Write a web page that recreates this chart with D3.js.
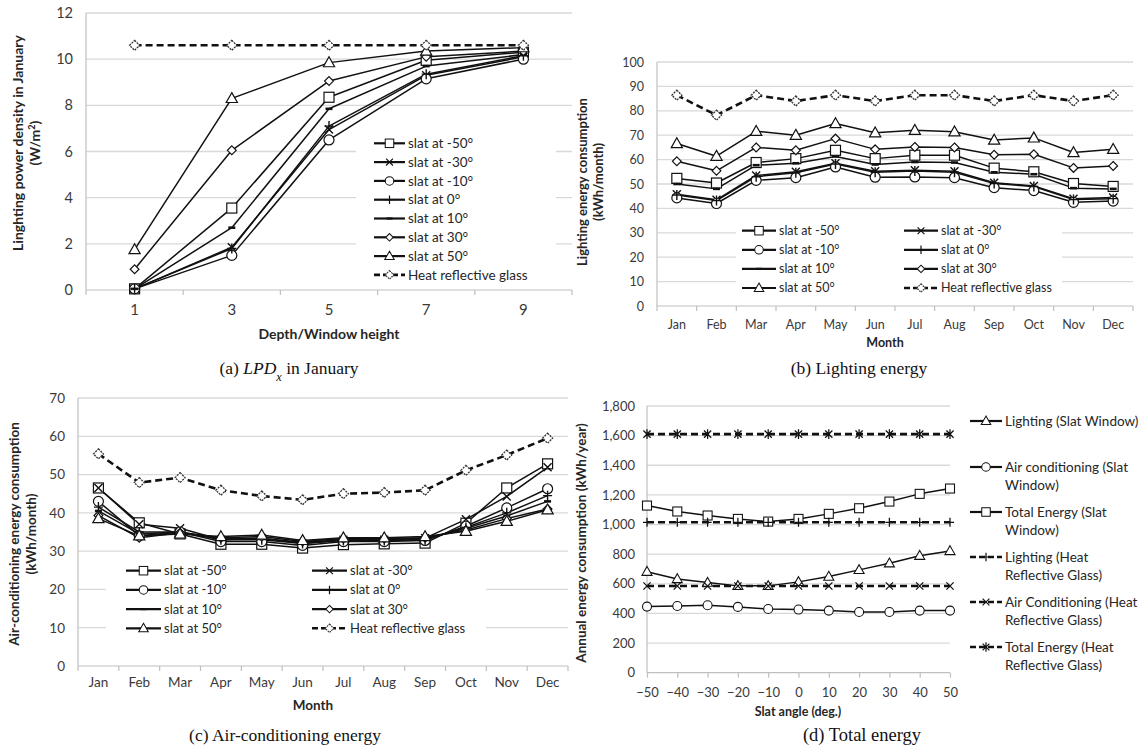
<!DOCTYPE html>
<html>
<head>
<meta charset="utf-8">
<script src="https://cdn.jsdelivr.net/npm/d3@7"></script>
<style>
  body { margin: 0; background: #fff; }
  svg { display: block; font-family: Lato, "Open Sans", sans-serif; }
</style>
</head>
<body>
<svg id="fig" width="1140" height="747"></svg>
<script>
// ---------- categories and labels ----------
const depthRatios = ["1", "3", "5", "7", "9"];
const months = ["Jan", "Feb", "Mar", "Apr", "May", "Jun", "Jul", "Aug", "Sep", "Oct", "Nov", "Dec"];
const slatLabels = ["slat at -50°", "slat at -30°", "slat at -10°", "slat at 0°", "slat at 10°", "slat at 30°", "slat at 50°"];
const heatLabel = "Heat reflective glass";

// ---------- (a) lighting power density in January (W/m2) ----------
const lpdTicks = [0, 2, 4, 6, 8, 10, 12];
const lpdSlat = [
  [0.05, 3.55, 8.35, 9.95, 10.3],   // -50
  [0.05, 1.85, 6.95, 9.3, 10.1],    // -30
  [0.05, 1.5, 6.5, 9.15, 10.0],     // -10
  [0.05, 1.8, 7.1, 9.35, 10.15],    // 0
  [0.05, 2.7, 7.85, 9.7, 10.2],     // 10
  [0.9, 6.05, 9.05, 10.1, 10.35],   // 30
  [1.75, 8.3, 9.85, 10.35, 10.5]    // 50
];
const lpdHeat = [10.6, 10.6, 10.6, 10.6, 10.6];

// ---------- (b) monthly lighting energy (kWh/month) ----------
const lightTicks = [0, 10, 20, 30, 40, 50, 60, 70, 80, 90, 100];
const lightSlat = [
  [52.3, 50.4, 58.8, 60.4, 63.8, 60.4, 61.8, 61.8, 56.5, 55.0, 50.2, 49.0],
  [45.8, 43.5, 53.5, 55.0, 58.5, 55.2, 55.6, 55.2, 50.5, 49.2, 44.0, 44.5],
  [44.3, 42.0, 51.5, 52.6, 57.0, 52.8, 52.9, 52.6, 48.5, 47.3, 42.5, 43.0],
  [45.5, 43.2, 53.0, 54.6, 58.2, 54.8, 55.3, 54.8, 50.2, 49.0, 43.6, 44.0],
  [50.0, 48.0, 57.7, 58.5, 61.3, 58.0, 59.0, 58.8, 54.8, 54.0, 48.3, 48.0],
  [59.3, 55.4, 65.0, 63.8, 68.6, 64.2, 65.2, 65.0, 62.0, 62.2, 56.6, 57.4],
  [66.6, 61.4, 71.6, 70.0, 74.8, 71.0, 72.0, 71.4, 68.0, 68.9, 62.9, 64.2]
];
const lightHeat = [86.4, 78.2, 86.4, 84.0, 86.4, 84.0, 86.4, 86.4, 84.0, 86.4, 84.0, 86.4];

// ---------- (c) monthly air-conditioning energy (kWh/month) ----------
const acTicks = [0, 10, 20, 30, 40, 50, 60, 70];
const acSlat = [
  [46.5, 37.4, 34.5, 31.8, 31.8, 30.8, 31.7, 31.9, 32.1, 37.3, 46.5, 52.8],
  [46.5, 37.0, 36.0, 33.0, 33.4, 32.0, 33.0, 33.0, 33.4, 38.3, 44.3, 51.9],
  [43.0, 34.0, 35.0, 32.5, 32.5, 31.5, 32.5, 32.5, 32.8, 36.5, 41.3, 46.3],
  [41.5, 35.0, 35.0, 33.0, 33.0, 32.0, 32.8, 32.8, 33.0, 36.2, 40.0, 44.5],
  [40.5, 34.5, 35.0, 33.3, 33.3, 32.3, 33.0, 33.0, 33.2, 36.0, 39.2, 43.0],
  [39.3, 33.5, 34.8, 33.5, 33.8, 32.5, 33.3, 33.3, 33.5, 35.5, 38.5, 41.0],
  [38.5, 34.0, 34.5, 33.8, 34.2, 32.8, 33.5, 33.5, 33.8, 35.2, 37.8, 40.8]
];
const acHeat = [55.4, 47.9, 49.2, 45.9, 44.4, 43.4, 45.0, 45.3, 45.9, 51.1, 55.1, 59.5];

// ---------- (d) annual energy vs slat angle (kWh/year) ----------
const slatAngles = [-50, -40, -30, -20, -10, 0, 10, 20, 30, 40, 50];
const annualTicks = [0, 200, 400, 600, 800, 1000, 1200, 1400, 1600, 1800];
const annualLightSlat = [682, 633, 608, 586, 586, 613, 649, 694, 739, 790, 822];
const annualAcSlat = [446, 450, 455, 444, 430, 426, 419, 410, 410, 419, 419];
const annualTotalSlat = [1128, 1088, 1061, 1038, 1020, 1038, 1072, 1110, 1155, 1207, 1243];
const annualLightHeat = [1015, 1015, 1015, 1015, 1015, 1015, 1015, 1015, 1015, 1015, 1015];
const annualAcHeat = [585, 585, 585, 585, 585, 585, 585, 585, 585, 585, 585];
const annualTotalHeat = [1610, 1610, 1610, 1610, 1610, 1610, 1610, 1610, 1610, 1610, 1610];
const annualLabels = [
  ["Lighting (Slat Window)"],
  ["Air conditioning (Slat", "Window)"],
  ["Total Energy (Slat", "Window)"],
  ["Lighting (Heat", "Reflective Glass)"],
  ["Air Conditioning (Heat", "Reflective Glass)"],
  ["Total Energy (Heat", "Reflective Glass)"]
];

// ---------- styling ----------
const slatMarkers = ["square", "cross", "circle", "plus", "dash", "diamond", "triangle"];
const GRID = "#d9d9d9";
const AXIS = "#bfbfbf";
const TICK_TEXT = "#3a3a3a";
const TITLE_TEXT = "#262626";

const svg = d3.select("#fig");

// Excel-like point markers centred on (x, y)
function marker(g, type, x, y, k = 1) {
  const m = g.append("g").attr("transform", `translate(${x},${y}) scale(${k})`);
  const hollow = s => s.attr("fill", "#fff").attr("stroke", "#111").attr("stroke-width", 1.2);
  const stroke = s => s.attr("fill", "none").attr("stroke", "#111").attr("stroke-width", 1.4);
  switch (type) {
    case "square": hollow(m.append("rect").attr("x", -5).attr("y", -5).attr("width", 10).attr("height", 10)); break;
    case "circle": hollow(m.append("circle").attr("r", 5)); break;
    case "triangle": hollow(m.append("path").attr("d", "M0,-5.8L5.6,4.1L-5.6,4.1Z")); break;
    case "diamond": hollow(m.append("path").attr("d", "M0,-4.4L4.4,0L0,4.4L-4.4,0Z")); break;
    case "heat":
      m.append("path").attr("d", "M0,-5L5,0L0,5L-5,0Z")
        .attr("fill", "#fff").attr("stroke", "#333").attr("stroke-width", 1.3)
        .attr("stroke-dasharray", "2,1");
      break;
    case "cross": stroke(m.append("path").attr("d", "M-4,-4L4,4M-4,4L4,-4")); break;
    case "plus": stroke(m.append("path").attr("d", "M0,-5L0,5M-4.5,0L4.5,0")); break;
    case "dash": m.append("path").attr("d", "M-3.5,0L3.5,0").attr("stroke", "#111").attr("stroke-width", 2.6); break;
    case "star": stroke(m.append("path").attr("d", "M-4,-4L4,4M-4,4L4,-4M0,-5.5L0,5.5")); break;
  }
}

function seriesLine(g, pts, dashed) {
  g.append("path")
    .attr("d", d3.line()(pts))
    .attr("fill", "none")
    .attr("stroke", "#111")
    .attr("stroke-width", dashed ? 2.6 : 1.5)
    .attr("stroke-dasharray", dashed ? "7,4" : null)
    .attr("stroke-linejoin", "round");
}

function legendItem(g, x0, x1, y, type, dashed, lines, fontSize) {
  g.append("line").attr("x1", x0).attr("x2", x1).attr("y1", y).attr("y2", y)
    .attr("stroke", "#111").attr("stroke-width", dashed ? 2.6 : 2.2)
    .attr("stroke-dasharray", dashed ? "6,3" : null);
  marker(g, type, (x0 + x1) / 2, y, 0.85);
  const t = g.append("text").attr("x", x1 + 3).attr("y", y)
    .attr("font-size", fontSize).attr("fill", TITLE_TEXT);
  lines.forEach((ln, i) => t.append("tspan").attr("x", x1 + 3).attr("dy", i === 0 ? "0.35em" : "1.32em").text(ln));
}

function rotatedTitle(lines, x0, dx, cy, size) {
  lines.forEach((ln, i) => {
    const t = svg.append("text")
      .attr("transform", `translate(${x0 + i * dx},${cy}) rotate(-90)`)
      .attr("text-anchor", "middle").attr("dy", "0.35em")
      .attr("font-size", size).attr("font-weight", "bold").attr("fill", TITLE_TEXT);
    if (Array.isArray(ln)) {
      ln.forEach(p => {
        const s = t.append("tspan").text(p.text);
        if (p.sup) s.attr("baseline-shift", "super").attr("font-size", size * 0.65);
      });
    } else t.text(ln);
  });
}

function caption(parts, cx, cy, size) {
  const t = svg.append("text").attr("x", cx).attr("y", cy).attr("dy", "0.35em")
    .attr("text-anchor", "middle").attr("font-family", "'Liberation Serif', 'Times New Roman', serif")
    .attr("font-size", size).attr("fill", "#111");
  parts.forEach(p => {
    const s = t.append("tspan").text(p.text);
    if (p.italic) s.attr("font-style", "italic");
    if (p.sub) s.attr("baseline-shift", "sub").attr("font-size", size * 0.7);
  });
}

// Category (month / depth) line chart panel
function categoryPanel(cfg) {
  const g = svg.append("g");
  const x = d3.scaleBand().domain(cfg.cats).range([cfg.left, cfg.right]).padding(0);
  const y = d3.scaleLinear().domain([0, d3.max(cfg.ticks)]).range([cfg.bottom, cfg.top]);
  const cx = c => x(c) + x.bandwidth() / 2;

  // horizontal gridlines
  g.selectAll(".grid").data(cfg.ticks.filter(t => t > 0)).join("line")
    .attr("x1", cfg.left).attr("x2", cfg.right)
    .attr("y1", d => y(d)).attr("y2", d => y(d))
    .attr("stroke", GRID).attr("stroke-width", 1.3);

  // y axis labels
  const ya = g.append("g").attr("transform", `translate(${cfg.left - 13},0)`)
    .call(d3.axisLeft(y).tickValues(cfg.ticks).tickSize(0).tickPadding(0));
  ya.select(".domain").remove();
  ya.selectAll("text").attr("font-family", "Lato, sans-serif").attr("font-size", cfg.yFont).attr("fill", TICK_TEXT);

  // axes lines
  g.append("line").attr("x1", cfg.left).attr("x2", cfg.left).attr("y1", cfg.top).attr("y2", cfg.bottom)
    .attr("stroke", AXIS).attr("stroke-width", 1.2);
  g.append("line").attr("x1", cfg.left).attr("x2", cfg.right).attr("y1", cfg.bottom).attr("y2", cfg.bottom)
    .attr("stroke", AXIS).attr("stroke-width", 1.2);

  // tick marks between categories
  const bounds = cfg.cats.map(c => x(c)).concat([x(cfg.cats[cfg.cats.length - 1]) + x.bandwidth()]);
  g.selectAll(".tk").data(bounds).join("line")
    .attr("x1", d => d).attr("x2", d => d).attr("y1", cfg.bottom).attr("y2", cfg.bottom + 5)
    .attr("stroke", AXIS).attr("stroke-width", 1.2);

  // x category labels
  g.selectAll(".xl").data(cfg.cats).join("text")
    .attr("x", d => cx(d)).attr("y", cfg.xLabelY).attr("dy", "0.35em")
    .attr("text-anchor", "middle").attr("font-size", cfg.xFont).attr("fill", TICK_TEXT).text(d => d);

  // x title
  g.append("text").attr("x", cfg.xTitleX).attr("y", cfg.xTitleY).attr("dy", "0.35em")
    .attr("text-anchor", "middle").attr("font-size", cfg.xTitleFont).attr("font-weight", "bold")
    .attr("fill", TITLE_TEXT).text(cfg.xTitle);

  // series
  const plot = g.append("g");
  cfg.slat.forEach(vals => seriesLine(plot, vals.map((v, i) => [cx(cfg.cats[i]), y(v)]), false));
  seriesLine(plot, cfg.heat.map((v, i) => [cx(cfg.cats[i]), y(v)]), true);
  cfg.slat.forEach((vals, s) => vals.forEach((v, i) => marker(plot, slatMarkers[s], cx(cfg.cats[i]), y(v))));
  cfg.heat.forEach((v, i) => marker(plot, "heat", cx(cfg.cats[i]), y(v)));

  // legend
  const lg = g.append("g");
  const L = cfg.legend;
  lg.append("rect").attr("x", L.box[0]).attr("y", L.box[1]).attr("width", L.box[2]).attr("height", L.box[3]).attr("fill", "#fff");
  const items = slatLabels.map((lab, i) => ({ lab, type: slatMarkers[i], dashed: false }))
    .concat([{ lab: heatLabel, type: "heat", dashed: true }]);
  items.forEach((it, i) => {
    const col = i % L.cols, row = Math.floor(i / L.cols);
    const x0 = L.colX[col];
    legendItem(lg, x0, x0 + L.lineW, L.rowY0 + row * L.rowH, it.type, it.dashed, [it.lab], L.font);
  });
}

// ---------- panel (a) ----------
categoryPanel({
  cats: depthRatios, ticks: lpdTicks, slat: lpdSlat, heat: lpdHeat,
  left: 86, right: 572, top: 13, bottom: 290,
  yFont: 14.5, xFont: 15, xLabelY: 310,
  xTitle: "Depth/Window height", xTitleX: 329, xTitleY: 334, xTitleFont: 14,
  legend: { box: [356, 132, 200, 154], cols: 1, colX: [374], lineW: 31, rowY0: 143.3, rowH: 18.8, font: 13.5 }
});
rotatedTitle(["Linghting power density in January", [{ text: "(W/m" }, { text: "2", sup: true }, { text: ")" }]], 18, 17, 143, 14);
caption([{ text: "(a) " }, { text: "LPD", italic: true }, { text: "x", italic: true, sub: true }, { text: " in January" }], 289, 368, 17.5);

// ---------- panel (b) ----------
categoryPanel({
  cats: months, ticks: lightTicks, slat: lightSlat, heat: lightHeat,
  left: 657, right: 1133, top: 62, bottom: 306,
  yFont: 12.5, xFont: 12.5, xLabelY: 325,
  xTitle: "Month", xTitleX: 885, xTitleY: 343, xTitleFont: 12.5,
  legend: { box: [736, 220, 326, 78], cols: 2, colX: [742, 904], lineW: 34, rowY0: 230.7, rowH: 19.1, font: 12.5 }
});
rotatedTitle(["Lighting energy consumption", "(kWh/month)"], 582, 16, 182, 13);
caption([{ text: "(b) Lighting energy" }], 859, 368, 17.5);

// ---------- panel (c) ----------
categoryPanel({
  cats: months, ticks: acTicks, slat: acSlat, heat: acHeat,
  left: 78, right: 568, top: 398, bottom: 666,
  yFont: 13.5, xFont: 13.5, xLabelY: 682,
  xTitle: "Month", xTitleX: 313, xTitleY: 705, xTitleFont: 13.5,
  legend: { box: [106, 558, 380, 86], cols: 2, colX: [126, 312], lineW: 35, rowY0: 570.7, rowH: 19.2, font: 13 }
});
rotatedTitle(["Air-conditioning energy consumption", "(kWh/month)"], 14, 17, 534, 13.5);
caption([{ text: "(c) Air-conditioning energy" }], 285, 735, 17.5);

// ---------- panel (d) ----------
(function () {
  const g = svg.append("g");
  const left = 647, right = 950, top = 406, bottom = 672.7;
  const x = d3.scaleLinear().domain([d3.min(slatAngles), d3.max(slatAngles)]).range([left, right]);
  const y = d3.scaleLinear().domain([0, d3.max(annualTicks)]).range([bottom, top]);

  g.selectAll(".grid").data(annualTicks.filter(t => t > 0)).join("line")
    .attr("x1", left).attr("x2", right).attr("y1", d => y(d)).attr("y2", d => y(d))
    .attr("stroke", GRID).attr("stroke-width", 1.3);

  const ya = g.append("g").attr("transform", `translate(${left - 12},0)`)
    .call(d3.axisLeft(y).tickValues(annualTicks).tickFormat(d3.format(",")).tickSize(0).tickPadding(0));
  ya.select(".domain").remove();
  ya.selectAll("text").attr("font-family", "Lato, sans-serif").attr("font-size", 13).attr("fill", TICK_TEXT);

  g.append("line").attr("x1", left).attr("x2", left).attr("y1", top).attr("y2", bottom).attr("stroke", AXIS).attr("stroke-width", 1.2);
  g.append("line").attr("x1", left).attr("x2", right).attr("y1", bottom).attr("y2", bottom).attr("stroke", AXIS).attr("stroke-width", 1.2);

  const xa = g.append("g").attr("transform", `translate(0,${bottom})`)
    .call(d3.axisBottom(x).tickValues(slatAngles).tickSize(5).tickPadding(10));
  xa.select(".domain").remove();
  xa.selectAll("line").attr("stroke", AXIS).attr("stroke-width", 1.2);
  xa.selectAll("text").attr("font-family", "Lato, sans-serif").attr("font-size", 13).attr("fill", TICK_TEXT);

  g.append("text").attr("x", 798).attr("y", 712).attr("dy", "0.35em").attr("text-anchor", "middle")
    .attr("font-size", 12.5).attr("font-weight", "bold").attr("fill", TITLE_TEXT).text("Slat angle (deg.)");

  const series = [
    { vals: annualLightSlat, type: "triangle", dashed: false },
    { vals: annualAcSlat, type: "circle", dashed: false },
    { vals: annualTotalSlat, type: "square", dashed: false },
    { vals: annualLightHeat, type: "plus", dashed: true },
    { vals: annualAcHeat, type: "cross", dashed: true },
    { vals: annualTotalHeat, type: "star", dashed: true }
  ];
  const plot = g.append("g");
  series.forEach(s => seriesLine(plot, s.vals.map((v, i) => [x(slatAngles[i]), y(v)]), s.dashed));
  series.forEach(s => s.vals.forEach((v, i) => marker(plot, s.type, x(slatAngles[i]), y(v), 0.9)));

  const lg = g.append("g");
  const rows = [421, 467, 512, 557, 602, 647];
  series.forEach((s, i) => legendItem(lg, 970, 1002, rows[i], s.type, s.dashed, annualLabels[i], 13.5));
})();
rotatedTitle(["Annual energy consumption  (kWh/year)"], 581, 0, 543, 13.5);
caption([{ text: "(d) Total energy" }], 862, 735, 18.5);
</script>
</body>
</html>
